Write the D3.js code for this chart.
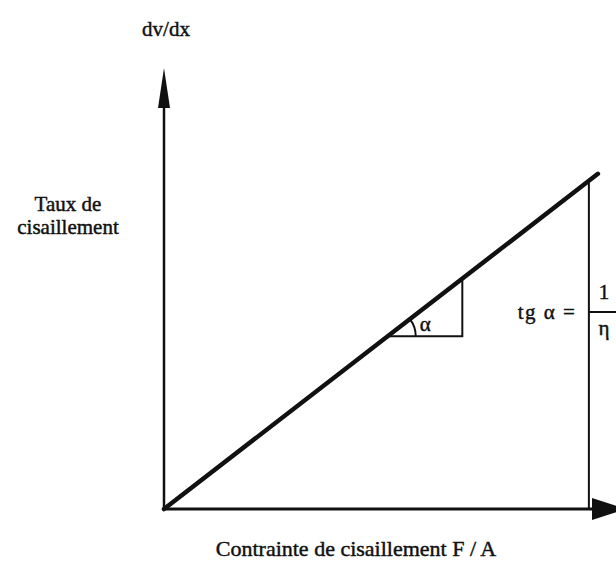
<!DOCTYPE html>
<html>
<head>
<meta charset="utf-8">
<script src="https://cdn.jsdelivr.net/npm/d3@7"></script>
<style>
  body { margin: 0; background: #fff; }
  svg { display: block; }
  text { font-family: 'Liberation Serif', 'DejaVu Serif', serif; fill: #111; stroke: #111; stroke-width: 0.45; }
</style>
</head>
<body>
<svg id="chart" width="616" height="563"></svg>
<script>
// Newtonian fluid: shear rate vs shear stress
const stress = [0, 96];          // F / A
const rate = [0, 76];            // dv/dx
const triangleX = [49.5, 66];    // slope triangle, on the line
const verticalX = 94;            // tg alpha = 1 / eta marker
const axisMax = 100;

const labels = {
  yTop: 'dv/dx',
  yName: ['Taux de', 'cisaillement'],
  xName: 'Contrainte de cisaillement F / A',
  alpha: 'α',
  tg: 'tg α =',
  num: '1',
  den: 'η'
};

const svg = d3.select('#chart');
const x = d3.scaleLinear().domain([0, axisMax]).range([164, 616]);
const y = d3.scaleLinear().domain([0, axisMax]).range([509, 68]);
const slope = rate[1] / stress[1];
const lineY = v => v * slope;

const ink = '#111';

// axes
svg.append('line')
  .attr('x1', x(0)).attr('y1', y(0))
  .attr('x2', x(0)).attr('y2', y(axisMax) + 20)
  .attr('stroke', ink).attr('stroke-width', 2.5);
svg.append('path')
  .attr('d', `M${x(0)},${y(axisMax)} L${x(0) - 6},${y(axisMax) + 40} L${x(0) + 6},${y(axisMax) + 40} Z`)
  .attr('fill', ink);

svg.append('line')
  .attr('x1', x(0)).attr('y1', y(0))
  .attr('x2', x(axisMax) - 10).attr('y2', y(0))
  .attr('stroke', ink).attr('stroke-width', 3);
svg.append('path')
  .attr('d', `M${x(axisMax) - 24},${y(0) - 11} L${x(axisMax) + 10},${y(0)} L${x(axisMax) - 24},${y(0) + 11} Z`)
  .attr('fill', ink);

// main line
svg.append('path')
  .datum(stress.map((s, i) => ({s, r: rate[i]})))
  .attr('d', d3.line().x(d => x(d.s)).y(d => y(d.r)))
  .attr('stroke', ink).attr('stroke-width', 4.5)
  .attr('stroke-linecap', 'round').attr('fill', 'none');

// slope triangle
const t0 = triangleX[0], t1 = triangleX[1];
svg.append('path')
  .attr('d', `M${x(t0)},${y(lineY(t0))} L${x(t1)},${y(lineY(t0))} L${x(t1)},${y(lineY(t1))}`)
  .attr('stroke', ink).attr('stroke-width', 2).attr('fill', 'none');

const r = 28;
const ang = Math.atan2(y(lineY(t0)) - y(lineY(t0 + 10)), x(t0 + 10) - x(t0));
svg.append('path')
  .attr('d', `M${x(t0) + r},${y(lineY(t0))} A${r},${r} 0 0 0 ${x(t0) + r * Math.cos(ang)},${y(lineY(t0)) - r * Math.sin(ang)}`)
  .attr('stroke', ink).attr('stroke-width', 2).attr('fill', 'none');
svg.append('text')
  .attr('x', x(t0) + r + 4).attr('y', y(lineY(t0)) - 5)
  .attr('font-size', 21)
  .text(labels.alpha);

// vertical marker and 1/eta fraction
svg.append('line')
  .attr('x1', x(verticalX)).attr('y1', y(0))
  .attr('x2', x(verticalX)).attr('y2', y(lineY(verticalX)))
  .attr('stroke', ink).attr('stroke-width', 2);
svg.append('line')
  .attr('x1', x(verticalX)).attr('y1', 312)
  .attr('x2', 616).attr('y2', 312)
  .attr('stroke', ink).attr('stroke-width', 2);
svg.append('text')
  .attr('x', 547).attr('y', 319)
  .attr('text-anchor', 'middle').attr('font-size', 21)
  .attr('letter-spacing', 1.5)
  .text(labels.tg);
svg.append('text')
  .attr('x', 604).attr('y', 299)
  .attr('text-anchor', 'middle').attr('font-size', 21)
  .text(labels.num);
svg.append('text')
  .attr('x', 604).attr('y', 335)
  .attr('text-anchor', 'middle').attr('font-size', 21)
  .text(labels.den);

// axis names
svg.append('text')
  .attr('x', 166).attr('y', 36)
  .attr('text-anchor', 'middle').attr('font-size', 21)
  .text(labels.yTop);
svg.selectAll('text.yName')
  .data(labels.yName)
  .enter().append('text')
    .attr('class', 'yName')
    .attr('x', 68)
    .attr('y', (d, i) => 211 + i * 23)
    .attr('text-anchor', 'middle').attr('font-size', 21)
    .text(d => d);
svg.append('text')
  .attr('x', 356).attr('y', 556)
  .attr('text-anchor', 'middle').attr('font-size', 22)
  .text(labels.xName);
</script>
</body>
</html>
